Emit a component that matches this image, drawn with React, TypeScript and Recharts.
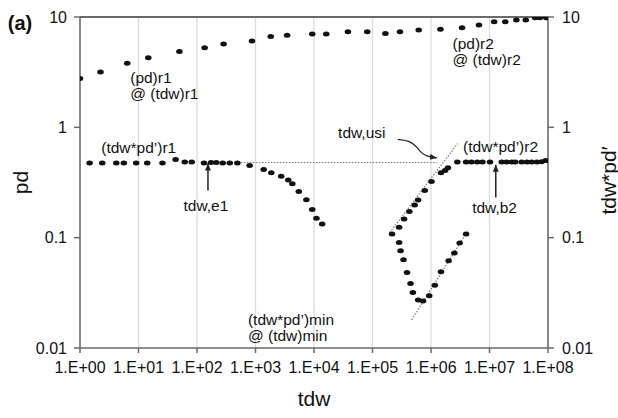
import React from 'react';
import {
  ComposedChart, Scatter, Line, XAxis, YAxis, CartesianGrid, ReferenceLine, ReferenceDot,
} from 'recharts';

// ---- data ----
const xTicks = [1, 1e1, 1e2, 1e3, 1e4, 1e5, 1e6, 1e7, 1e8];
const yTicks = [0.01, 0.1, 1, 10];

// pd (upper curve)
const pdTdw = [1, 2.24, 6.41, 14.7, 50.1, 135, 285, 871, 1820, 3470, 9330, 16200, 38000, 81300, 166000, 295000, 617000, 1.45e6, 3.39e6, 6.61e6, 1.2e7, 1.86e7, 2.88e7, 4.17e7, 6.03e7, 7.24e7, 9.33e7];
const pdVal = [2.77, 3.18, 3.8, 4.27, 4.87, 5.26, 5.69, 6.05, 6.67, 6.82, 7.0, 7.0, 7.35, 7.35, 7.1, 7.35, 7.62, 7.73, 8.0, 8.46, 9.06, 9.06, 9.4, 9.4, 9.85, 9.85, 9.85];

// tdw*pd' early segment
const derivTdwA = [1.46, 2.4, 4.17, 5.62, 9.12, 14.1, 25.7, 43.1, 61.7, 81.3, 132, 174, 214, 275, 363, 490, 794, 1380, 1860, 2750, 3630, 4270, 5500, 7410, 9330, 11000, 13800];
const derivValA = [0.474, 0.474, 0.474, 0.474, 0.474, 0.474, 0.474, 0.512, 0.484, 0.484, 0.474, 0.48, 0.48, 0.474, 0.474, 0.474, 0.452, 0.415, 0.388, 0.36, 0.334, 0.308, 0.262, 0.221, 0.18, 0.15, 0.133];

// tdw*pd' V-shaped segment
const derivTdwB = [216000, 285000, 302000, 339000, 389000, 447000, 490000, 603000, 733000, 933000, 1.16e6, 1.48e6, 2.0e6, 2.51e6, 3.09e6, 3.98e6];
const derivValB = [0.108, 0.0906, 0.076, 0.063, 0.0484, 0.0385, 0.0318, 0.0272, 0.0267, 0.0297, 0.037, 0.049, 0.0618, 0.0726, 0.0895, 0.108];

// tdw*pd' rising segment and late plateau
const derivTdwC = [285000, 347000, 427000, 525000, 603000, 783000, 1.02e6, 1.48e6, 1.74e6, 1.95e6, 2.82e6, 3.98e6, 4.9e6, 6.17e6, 7.59e6, 1.02e7, 1.62e7, 1.95e7, 2.4e7, 2.75e7, 3.55e7, 4.37e7, 5.25e7, 6.46e7, 7.76e7, 9.12e7];
const derivValC = [0.124, 0.148, 0.173, 0.198, 0.22, 0.267, 0.323, 0.387, 0.406, 0.43, 0.484, 0.484, 0.484, 0.484, 0.484, 0.484, 0.484, 0.484, 0.484, 0.484, 0.484, 0.484, 0.484, 0.484, 0.487, 0.5];

// straight-line fits (dotted)
const flatFit = [{ x: 500, y: 0.48 }, { x: 1.26e6, y: 0.48 }];
const usiFit = [{ x: 1.97e5, y: 0.111 }, { x: 2.84e6, y: 0.711 }];
const minFit = [{ x: 4.68e5, y: 0.018 }, { x: 4.27e6, y: 0.116 }];

// arrows
const arrowE1 = [{ x: 154, y: 0.267 }, { x: 154, y: 0.47 }];
const arrowB2 = [{ x: 1.28e7, y: 0.231 }, { x: 1.28e7, y: 0.458 }];
const usiCurveTdw = [2.7e5, 4.4e5, 5.8e5, 6.8e5, 8.6e5, 1.26e6];
const usiCurveVal = [0.778, 0.755, 0.66, 0.585, 0.545, 0.528];

// annotations: [text, tdw, value, anchor]
const notes: [string, number, number, string][] = [
  ['(pd)r1', 7.22, 2.85, 'start'],
  ['@ (tdw)r1', 7.22, 2.04, 'start'],
  ['(pd)r2', 2.33e6, 5.74, 'start'],
  ['@ (tdw)r2', 2.33e6, 4.11, 'start'],
  ['(tdw*pd’)r1', 2.31, 0.658, 'start'],
  ['(tdw*pd’)r2', 3.54e6, 0.665, 'start'],
  ['tdw,usi', 2.58e4, 0.891, 'start'],
  ['tdw,e1', 142, 0.197, 'middle'],
  ['tdw,b2', 1.22e7, 0.189, 'middle'],
  ['(tdw*pd’)min', 743, 0.018, 'start'],
  ['@ (tdw)min', 743, 0.01285, 'start'],
];

const pdData = pdTdw.map((x, i) => ({ x, y: pdVal[i] }));
const derivData = [
  ...derivTdwA.map((x, i) => ({ x, y: derivValA[i] })),
  ...derivTdwB.map((x, i) => ({ x, y: derivValB[i] })),
  ...derivTdwC.map((x, i) => ({ x, y: derivValC[i] })),
];
const usiCurve = usiCurveTdw.map((x, i) => ({ x, y: usiCurveVal[i] }));

const FONT = '"Liberation Sans", Arial, sans-serif';
const AXIS = '#6a6a6a';

const Dot = (props: any) => {
  const { cx, cy } = props;
  if (cx == null || cy == null) return null;
  return <ellipse cx={cx} cy={cy} rx={3.3} ry={2.5} fill="#111" />;
};

const fmtX = (v: number) => `1.E+${String(Math.round(Math.log10(v))).padStart(2, '0')}`;
const fmtY = (v: number) => String(v);

const noteContent = (text: string, anchor: string) => (props: any) => {
  const vb = props.viewBox || {};
  const x = (vb.x ?? 0) + (vb.width ?? 0) / 2;
  const y = (vb.y ?? 0) + (vb.height ?? 0) / 2;
  return (
    <text x={x} y={y} textAnchor={anchor} dominantBaseline="central" fontSize={15.5} fontFamily={FONT} fill="#111">
      {text}
    </text>
  );
};

export default function App() {
  return (
    <div style={{ position: 'absolute', left: 0, top: 0 }}>
      <ComposedChart width={618} height={418} margin={{ top: 17, right: 0, bottom: 0, left: 0 }}>
        <defs>
          <marker id="ah" markerWidth={10} markerHeight={10} refX={7} refY={3} orient="auto" markerUnits="userSpaceOnUse">
            <path d="M0,0 L7,3 L0,6 Z" fill="#222" />
          </marker>
        </defs>
        <CartesianGrid horizontal={false} stroke="#dcdcdc" strokeWidth={1.3} yAxisId="left" />
        <XAxis
          type="number"
          dataKey="x"
          scale="log"
          domain={[1, 1e8]}
          ticks={xTicks}
          allowDataOverflow
          tickFormatter={fmtX}
          height={70}
          tickSize={5}
          tickMargin={9}
          axisLine={{ stroke: AXIS, strokeWidth: 1.5 }}
          tickLine={{ stroke: AXIS, strokeWidth: 1.5 }}
          tick={{ fontSize: 16, fill: '#111', fontFamily: FONT }}
          label={{
            content: (p: any) => {
              const vb = p.viewBox || {};
              return (
                <text x={vb.x + vb.width / 2} y={vb.y + 50} textAnchor="middle" dominantBaseline="central" fontSize={21} fontFamily={FONT} fill="#111">tdw</text>
              );
            },
          }}
        />
        <YAxis
          yAxisId="left"
          type="number"
          dataKey="y"
          scale="log"
          domain={[0.01, 10]}
          ticks={yTicks}
          allowDataOverflow
          tickFormatter={fmtY}
          width={80}
          tickSize={6}
          tickMargin={7}
          axisLine={{ stroke: AXIS, strokeWidth: 1.5 }}
          tickLine={{ stroke: AXIS, strokeWidth: 1.5 }}
          tick={{ fontSize: 16, fill: '#111', fontFamily: FONT }}
          label={{
            content: (p: any) => {
              const vb = p.viewBox || {};
              const cy = vb.y + vb.height / 2;
              return (
                <g>
                  <text x={vb.x + 20} y={vb.y + 6} textAnchor="middle" dominantBaseline="central" fontSize={20} fontWeight="bold" fontFamily={FONT} fill="#111">(a)</text>
                  <text x={vb.x + 20} y={cy} textAnchor="middle" dominantBaseline="central" fontSize={21} fontFamily={FONT} fill="#111" transform={`rotate(-90 ${vb.x + 20} ${cy})`}>pd</text>
                </g>
              );
            },
          }}
        />
        <YAxis
          yAxisId="right"
          orientation="right"
          type="number"
          dataKey="y"
          scale="log"
          domain={[0.01, 10]}
          ticks={yTicks}
          allowDataOverflow
          tickFormatter={fmtY}
          width={70}
          tickSize={6}
          tickMargin={8}
          axisLine={{ stroke: AXIS, strokeWidth: 1.5 }}
          tickLine={{ stroke: AXIS, strokeWidth: 1.5 }}
          tick={{ fontSize: 16, fill: '#111', fontFamily: FONT }}
          label={{
            content: (p: any) => {
              const vb = p.viewBox || {};
              const cx = vb.x + 60;
              const cy = vb.y + vb.height / 2 - 2;
              return (
                <text x={cx} y={cy} textAnchor="middle" dominantBaseline="central" fontSize={21} fontFamily={FONT} fill="#111" transform={`rotate(-90 ${cx} ${cy})`}>tdw*pd′</text>
              );
            },
          }}
        />
        <ReferenceLine yAxisId="left" y={10} stroke={AXIS} strokeWidth={2} />

        <ReferenceLine yAxisId="left" segment={flatFit} stroke="#777" strokeWidth={1.2} strokeDasharray="1.5 1.5" ifOverflow="visible" />
        <ReferenceLine yAxisId="left" segment={usiFit} stroke="#777" strokeWidth={1.2} strokeDasharray="1.5 1.5" ifOverflow="visible" />
        <ReferenceLine yAxisId="left" segment={minFit} stroke="#777" strokeWidth={1.2} strokeDasharray="1.5 1.5" ifOverflow="visible" />

        <Scatter yAxisId="left" data={pdData} dataKey="y" shape={<Dot />} isAnimationActive={false} />
        <Scatter yAxisId="left" data={derivData} dataKey="y" shape={<Dot />} isAnimationActive={false} />

        <ReferenceLine yAxisId="left" segment={arrowE1} stroke="#222" strokeWidth={1.5} markerEnd="url(#ah)" ifOverflow="visible" />
        <ReferenceLine yAxisId="left" segment={arrowB2} stroke="#222" strokeWidth={1.5} markerEnd="url(#ah)" ifOverflow="visible" />
        <Line yAxisId="left" data={usiCurve} dataKey="y" type="basis" stroke="#222" strokeWidth={1.3} dot={false} activeDot={false} markerEnd="url(#ah)" isAnimationActive={false} />

        {notes.map(([t, x, y, a]) => (
          <ReferenceDot
            key={t}
            yAxisId="left"
            x={x}
            y={y}
            r={0.01}
            fill="none"
            stroke="none"
            ifOverflow="visible"
            label={{ content: noteContent(t, a) }}
          />
        ))}
      </ComposedChart>
    </div>
  );
}
